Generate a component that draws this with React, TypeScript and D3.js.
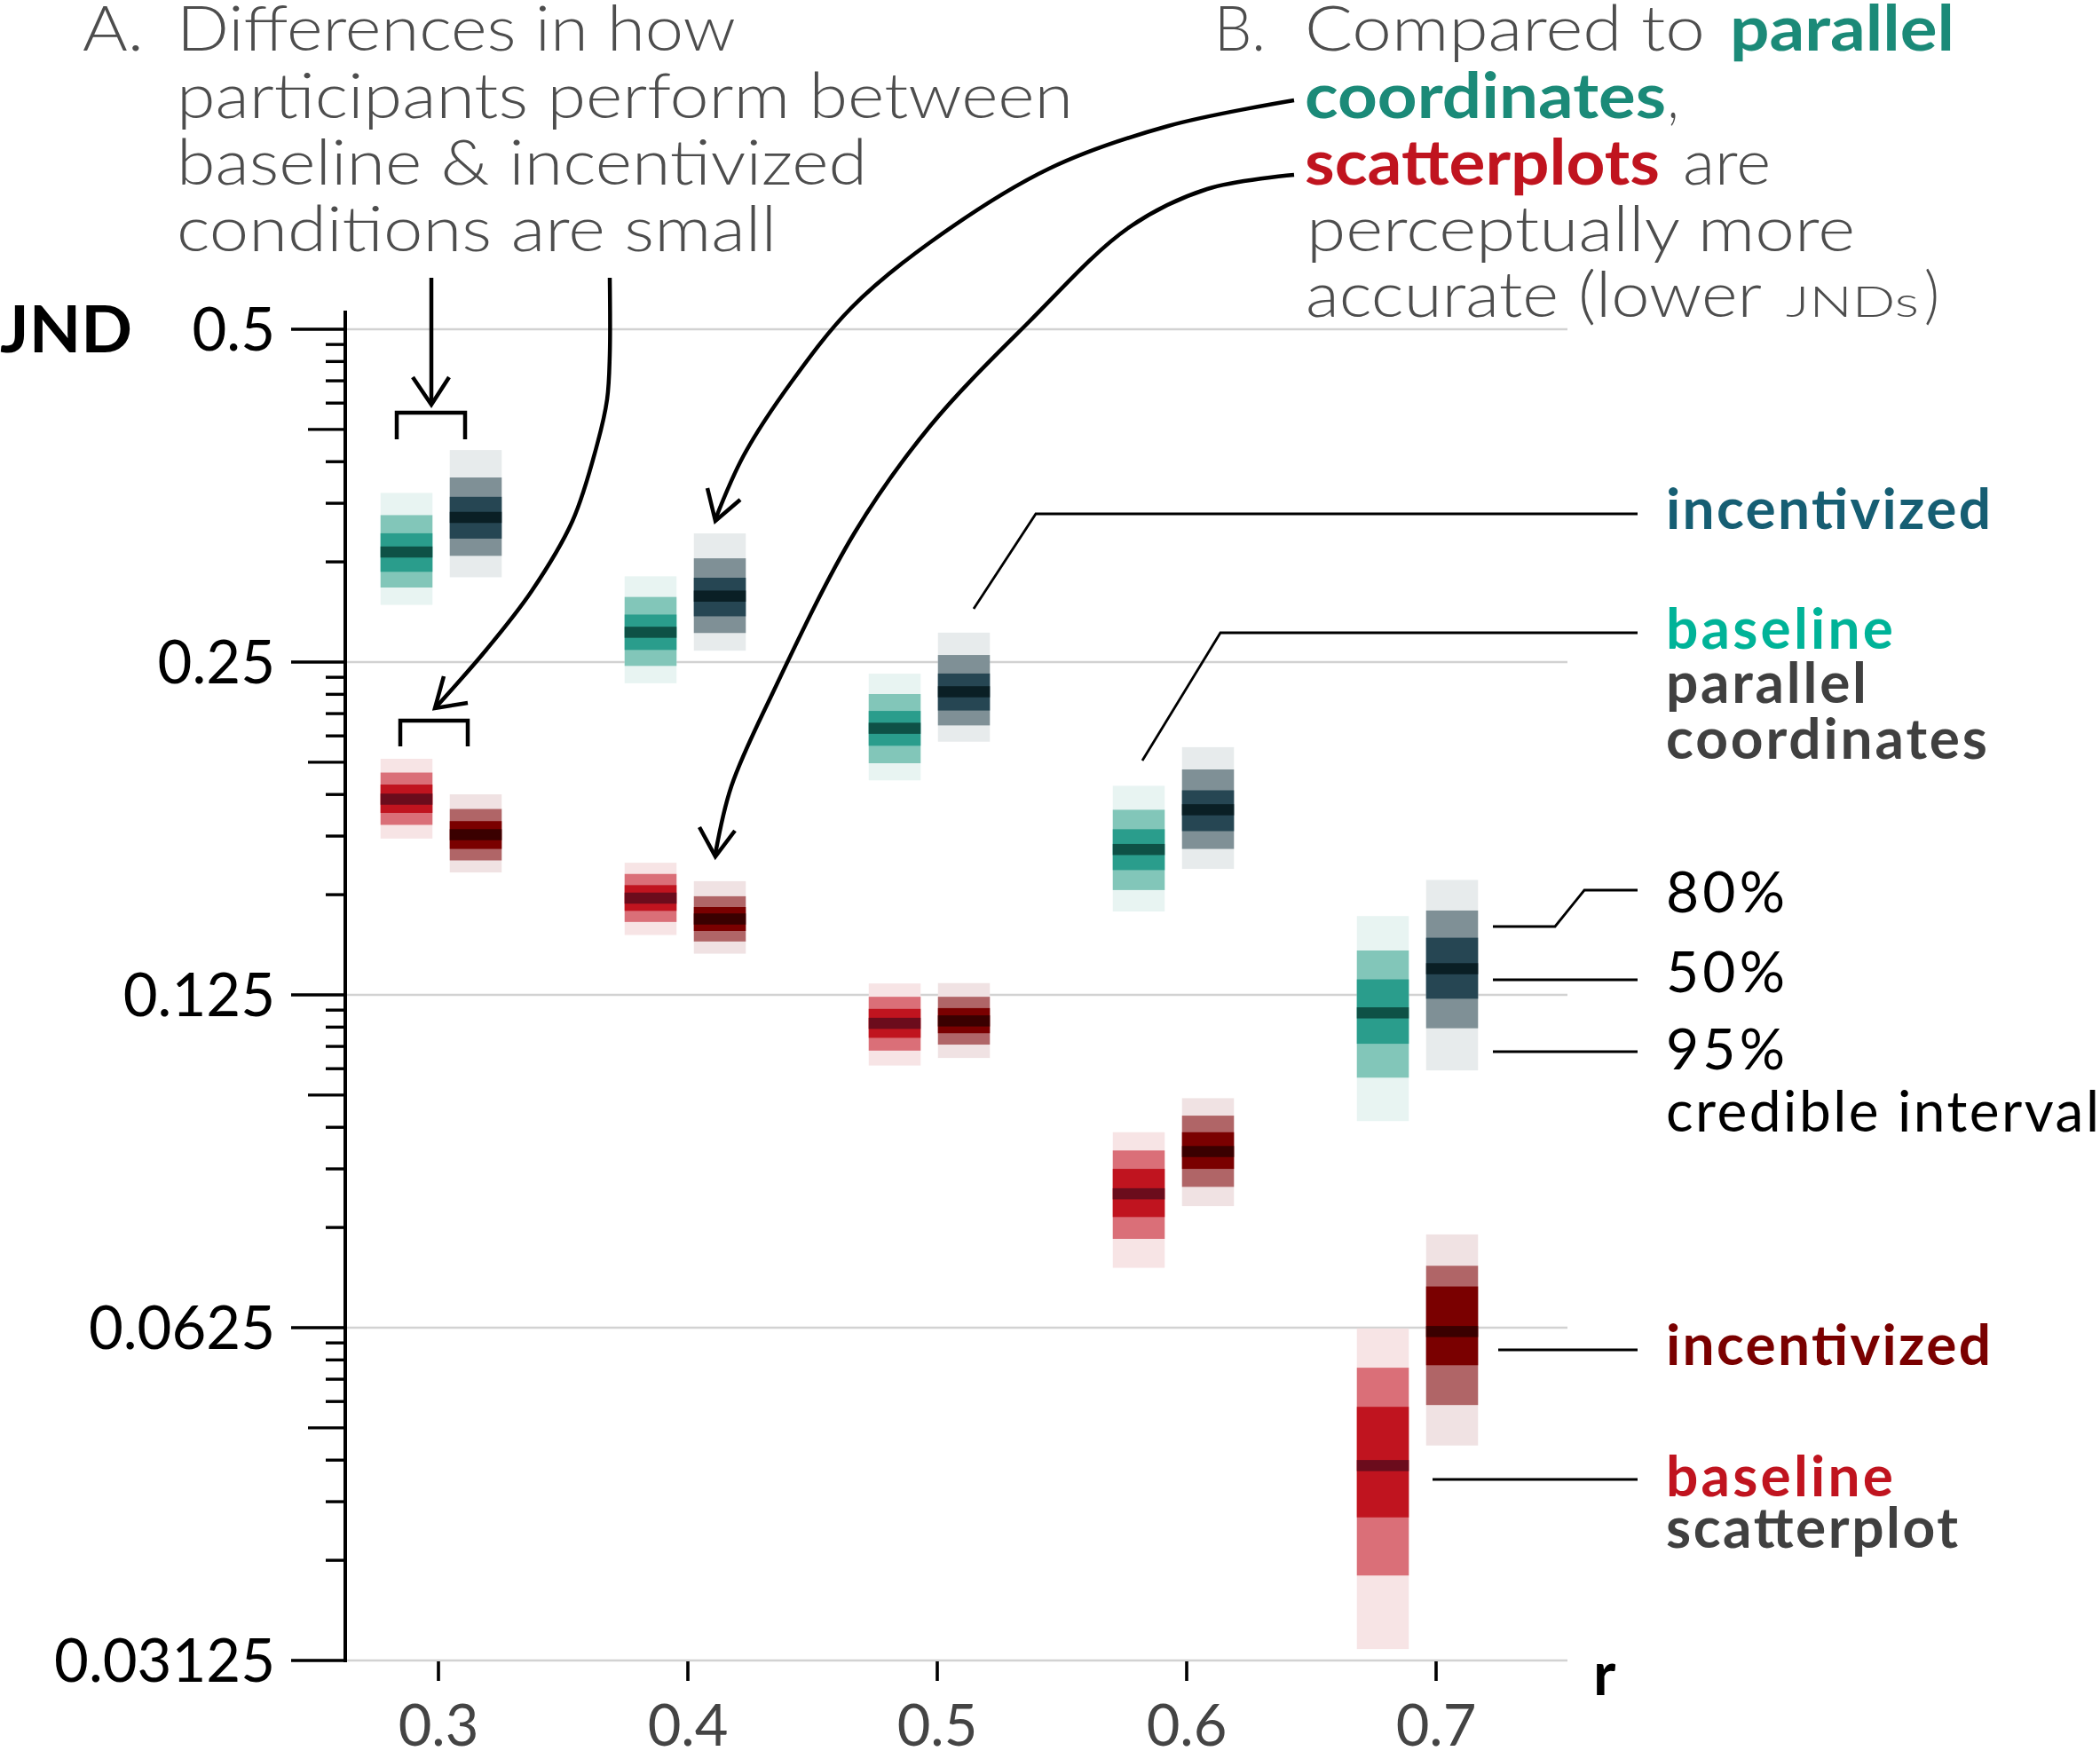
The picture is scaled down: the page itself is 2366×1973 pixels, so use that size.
import React from 'react';
import * as d3 from 'd3';

// ---------- data ----------
const rValues = [0.3, 0.4, 0.5, 0.6, 0.7];
const xTickLabels = ['0.3', '0.4', '0.5', '0.6', '0.7'];
const yTickValues = [0.5, 0.25, 0.125, 0.0625, 0.03125];
const yTickLabels = ['0.5', '0.25', '0.125', '0.0625', '0.03125'];

// each entry: [lo95, lo80, lo50, median, hi50, hi80, hi95] (JND)
const pcBaseline = [
  [0.2816, 0.292, 0.3017, 0.3144, 0.3269, 0.3395, 0.3556],
  [0.2392, 0.248, 0.2564, 0.266, 0.276, 0.2863, 0.2989],
  [0.1954, 0.2025, 0.21, 0.2178, 0.2258, 0.2339, 0.244],
  [0.1487, 0.1555, 0.1621, 0.1692, 0.1765, 0.1838, 0.1932],
  [0.0961, 0.1052, 0.1129, 0.1204, 0.1291, 0.1371, 0.1473],
];
const pcIncentivized = [
  [0.2983, 0.3119, 0.3233, 0.3379, 0.3527, 0.3672, 0.3888],
  [0.256, 0.2656, 0.275, 0.2868, 0.298, 0.3103, 0.3268],
  [0.2118, 0.2191, 0.226, 0.235, 0.2441, 0.2537, 0.2658],
  [0.1625, 0.1694, 0.1758, 0.1838, 0.1914, 0.1999, 0.2094],
  [0.1068, 0.1166, 0.124, 0.132, 0.1408, 0.149, 0.1588],
];
const spBaseline = [
  [0.1731, 0.1781, 0.1826, 0.1879, 0.1937, 0.1986, 0.2044],
  [0.1416, 0.1455, 0.1489, 0.1529, 0.1571, 0.1608, 0.1646],
  [0.1079, 0.1113, 0.1143, 0.1178, 0.1214, 0.1245, 0.128],
  [0.0708, 0.0752, 0.0787, 0.0826, 0.087, 0.0904, 0.0939],
  [0.032, 0.0373, 0.0421, 0.0469, 0.053, 0.0575, 0.0624],
];
const spIncentivized = [
  [0.1613, 0.1654, 0.1694, 0.1745, 0.1795, 0.1841, 0.1898],
  [0.1362, 0.1397, 0.1428, 0.1464, 0.1501, 0.1535, 0.1584],
  [0.1096, 0.1127, 0.1154, 0.1184, 0.1216, 0.1245, 0.1281],
  [0.0805, 0.0838, 0.087, 0.0902, 0.0939, 0.0972, 0.1008],
  [0.0489, 0.0532, 0.0578, 0.062, 0.0681, 0.0711, 0.0759],
];

// colours: [95%, 80%, 50%, median]
const pcBaseColors = ['#e8f4f2', '#82c6b9', '#2a9d8c', '#0e5146'];
const pcIncColors = ['#e7ebec', '#7f9096', '#264653', '#0a1f25'];
const spBaseColors = ['#f7e4e5', '#da6f78', '#c0141f', '#6b0c1c'];
const spIncColors = ['#f0e2e3', '#b06567', '#7a0000', '#3a0000'];

const FONT = "Lato, 'Open Sans', 'DejaVu Sans', sans-serif";
const GRAY = '#4d4d4d';

export default function App() {
  const W = 2366;
  const H = 1973;
  const axisX = 389;
  const gridEnd = 1766;

  const y = d3.scaleLog().base(2).domain([0.03125, 0.5]).range([1871, 371]);
  const xTick = d3.scaleLinear().domain([0.3, 0.7]).range([494, 1618]);
  const xBox = d3.scaleLinear().domain([0.3, 0.7]).range([497, 1597]);
  const boxW = 58.5;
  const dodge = 39;
  const medH = 12.5;

  const series = [
    { key: 'pcb', data: pcBaseline, colors: pcBaseColors, side: -1 },
    { key: 'pci', data: pcIncentivized, colors: pcIncColors, side: 1 },
    { key: 'spb', data: spBaseline, colors: spBaseColors, side: -1 },
    { key: 'spi', data: spIncentivized, colors: spIncColors, side: 1 },
  ];

  // minor ticks: log10-style subdivision of each doubling
  const minorTicks: { v: number; medium: boolean }[] = [];
  for (let i = 0; i < 4; i++) {
    const L = 0.03125 * Math.pow(2, i);
    for (let k = 2; k <= 9; k++) {
      minorTicks.push({ v: L * Math.pow(2, Math.log10(k)), medium: k === 5 });
    }
  }

  const line = d3.line<[number, number]>();
  const curve = d3.line<[number, number]>().curve(d3.curveCatmullRom.alpha(0.5));

  const arrowStroke = 4.5;
  const legStroke = 2.8;

  // annotation geometry
  const arrowA1: [number, number][] = [[486, 313], [486, 454]];
  const headA1: [number, number][] = [[465, 425], [486, 456], [506, 425]];
  const bracketA: [number, number][] = [[447, 495], [447, 465], [524, 465], [524, 495]];
  const bracketB: [number, number][] = [[451, 841], [451, 812], [527, 812], [527, 841]];
  const arrowA2: [number, number][] = [[687, 313], [687, 400], [684, 450], [673, 500], [645, 587], [599, 666], [548, 732], [491, 797]];
  const headA2: [number, number][] = [[500, 762], [490, 798], [527, 792]];
  const arrowB1: [number, number][] = [[1458, 113], [1316, 142], [1182, 190], [1048, 273], [959, 347], [892, 430], [838, 513], [806, 585]];
  const headB1: [number, number][] = [[797, 550], [806, 587], [834, 563]];
  const arrowB2: [number, number][] = [[1458, 197], [1360, 213], [1271, 257], [1159, 363], [1048, 480], [963, 600], [870, 782], [824, 886], [806, 962]];
  const headB2: [number, number][] = [[788, 932], [806, 965], [828, 936]];

  const legendLines: [number, number][][] = [
    [[1845, 579], [1167, 579], [1097, 686]],
    [[1845, 713], [1375, 713], [1287, 857]],
    [[1845, 1003], [1785, 1003], [1752, 1044], [1682, 1044]],
    [[1845, 1104], [1682, 1104]],
    [[1845, 1185], [1682, 1185]],
    [[1845, 1521], [1688, 1521]],
    [[1845, 1667], [1614, 1667]],
  ];

  const annoText = (x: number, yy: number, w: number, s: string, opts: any = {}) => (
    <text
      x={x}
      y={yy}
      textLength={w}
      lengthAdjust="spacingAndGlyphs"
      fontSize={opts.size || 70}
      fontWeight={opts.weight || 300}
      fill={opts.fill || GRAY}
      fontFamily={FONT}
    >
      {s}
    </text>
  );

  const legText = (x: number, yy: number, w: number | null, s: string, fill: string, weight: number) => (
    <text
      x={x}
      y={yy}
      {...(w ? { textLength: w, lengthAdjust: 'spacing' } : {})}
      fontSize={64}
      fontWeight={weight}
      fill={fill}
      fontFamily={FONT}
    >
      {s}
    </text>
  );

  return (
    <svg
      width={W}
      height={H}
      style={{ position: 'absolute', left: 0, top: 0, background: '#fff' }}
      xmlns="http://www.w3.org/2000/svg"
    >
      <rect x={0} y={0} width={W} height={H} fill="#fff" />

      {/* grid lines */}
      {yTickValues.map((v) => (
        <line key={'g' + v} x1={axisX} x2={gridEnd} y1={y(v)} y2={y(v)} stroke="#d2d2d2" strokeWidth={2.5} />
      ))}

      {/* interval boxes */}
      {series.map((s) =>
        s.data.map((d, i) => {
          const cx = xBox(rValues[i]) + s.side * dodge;
          const x0 = cx - boxW / 2;
          const bands = [
            [d[0], d[6], s.colors[0]],
            [d[1], d[5], s.colors[1]],
            [d[2], d[4], s.colors[2]],
          ] as [number, number, string][];
          return (
            <g key={s.key + i}>
              {bands.map(([lo, hi, c], j) => (
                <rect key={j} x={x0} width={boxW} y={y(hi)} height={y(lo) - y(hi)} fill={c} />
              ))}
              <rect x={x0} width={boxW} y={y(d[3]) - medH / 2} height={medH} fill={s.colors[3]} />
            </g>
          );
        })
      )}

      {/* y axis */}
      <line x1={axisX} x2={axisX} y1={350} y2={1873} stroke="#000" strokeWidth={4} />
      {yTickValues.map((v, i) => (
        <g key={'yt' + v}>
          <line x1={328} x2={axisX} y1={y(v)} y2={y(v)} stroke="#000" strokeWidth={3.6} />
          <text
            x={310}
            y={y(v) + 24}
            textAnchor="end"
            fontSize={67}
            fill="#000"
            fontFamily={FONT}
          >
            {yTickLabels[i]}
          </text>
        </g>
      ))}
      {minorTicks.map((t, i) => (
        <line
          key={'mt' + i}
          x1={t.medium ? 347 : 367}
          x2={axisX}
          y1={y(t.v)}
          y2={y(t.v)}
          stroke="#000"
          strokeWidth={3.4}
        />
      ))}
      <text x={0} y={397} textLength={149} lengthAdjust="spacingAndGlyphs" fontSize={72} fontWeight={700} fill="#000" fontFamily={FONT}>
        JND
      </text>

      {/* x axis ticks */}
      {rValues.map((r, i) => (
        <g key={'xt' + r}>
          <line x1={xTick(r)} x2={xTick(r)} y1={1872} y2={1894} stroke="#000" strokeWidth={3.6} />
          <text x={xTick(r)} y={1967} textAnchor="middle" fontSize={65} fill="#444" fontFamily={FONT}>
            {xTickLabels[i]}
          </text>
        </g>
      ))}
      <text x={1795} y={1910} fontSize={68} fontWeight={700} fill="#000" fontFamily={FONT}>
        r
      </text>

      {/* annotation A */}
      {annoText(93, 57, 69, 'A.')}
      {annoText(199, 57, 630, 'Differences in how')}
      {annoText(199, 133, 1010, 'participants perform between')}
      {annoText(199, 208, 778, 'baseline & incentivized')}
      {annoText(199, 283, 676, 'conditions are small')}

      {/* annotation B */}
      {annoText(1368, 57, 58, 'B.')}
      {annoText(1470, 57, 451, 'Compared to')}
      {annoText(1949, 57, 253, 'parallel', { weight: 700, fill: '#1b8a78' })}
      {annoText(1470, 133, 407, 'coordinates', { weight: 700, fill: '#1b8a78' })}
      {annoText(1879, 133, 12, ',')}
      {annoText(1470, 208, 400, 'scatterplots', { weight: 700, fill: '#c0141f' })}
      {annoText(1896, 208, 99, 'are')}
      {annoText(1472, 283, 618, 'perceptually more')}
      {annoText(1471, 357, 285, 'accurate')}
      {annoText(1778, 357, 207, '(lower')}
      {annoText(2012, 357, 150, 'JNDs', { size: 48 })}
      {annoText(2168, 357, 17, ')')}

      {/* arrows & brackets */}
      <g fill="none" stroke="#000" strokeWidth={arrowStroke} strokeLinejoin="miter">
        <path d={line(arrowA1) || ''} />
        <path d={line(headA1) || ''} />
        <path d={line(bracketA) || ''} />
        <path d={line(bracketB) || ''} />
        <path d={curve(arrowA2) || ''} />
        <path d={line(headA2) || ''} />
        <path d={curve(arrowB1) || ''} />
        <path d={line(headB1) || ''} />
        <path d={curve(arrowB2) || ''} />
        <path d={line(headB2) || ''} />
      </g>

      {/* legend leader lines */}
      <g fill="none" stroke="#000" strokeWidth={legStroke}>
        {legendLines.map((pts, i) => (
          <path key={'ll' + i} d={line(pts) || ''} />
        ))}
      </g>

      {/* legend labels */}
      {legText(1877, 596, 366, 'incentivized', '#165e73', 700)}
      {legText(1877, 731, 256, 'baseline', '#00b398', 700)}
      {legText(1877, 792, 226, 'parallel', '#404040', 700)}
      {legText(1877, 855, 362, 'coordinates', '#404040', 700)}
      {legText(1877, 1028, 134, '80%', '#000', 400)}
      {legText(1877, 1118, 134, '50%', '#000', 400)}
      {legText(1877, 1205, 134, '95%', '#000', 400)}
      {legText(1877, 1275, 488, 'credible interval', '#000', 400)}
      {legText(1877, 1538, 366, 'incentivized', '#7a0000', 700)}
      {legText(1877, 1686, 256, 'baseline', '#c0141f', 700)}
      {legText(1877, 1744, 329, 'scatterplot', '#404040', 700)}
    </svg>
  );
}
